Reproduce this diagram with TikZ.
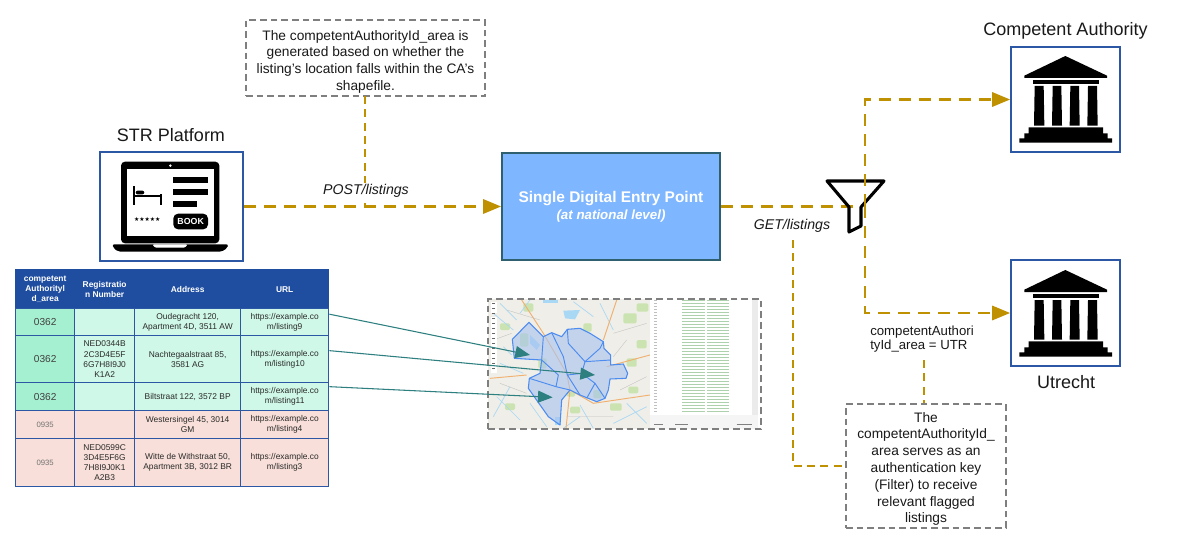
\documentclass[tikz,border=0pt]{standalone}
\usepackage{fontspec}
\setmainfont{Liberation Sans}
\newfontfamily\dejavu{DejaVu Sans}
\usetikzlibrary{arrows.meta}
\definecolor{gold}{HTML}{BF9000}
\definecolor{bluebd}{HTML}{2B57A5}
\definecolor{hdr}{HTML}{1F4EA1}
\definecolor{mintd}{HTML}{A6F0D2}
\definecolor{mintl}{HTML}{CFF8E8}
\definecolor{pinkc}{HTML}{F8DFD9}
\definecolor{tealc}{HTML}{2E7F80}
\definecolor{graybd}{HTML}{7F7F7F}
\definecolor{sdepfill}{HTML}{7EB6FF}
\definecolor{sdepbd}{HTML}{2F6070}
\definecolor{txtc}{HTML}{2A2A2A}
\definecolor{mapbg}{HTML}{EFEEE8}
\definecolor{mapgreen}{HTML}{CBE3B0}
\definecolor{mapwater}{HTML}{A9D8F5}
\definecolor{maproad}{HTML}{F0B070}
\definecolor{polyfill}{HTML}{A9C4F0}
\definecolor{polyline}{HTML}{4C8CF0}
\tikzset{
  golddash/.style={draw=gold,line width=2.2pt,dash pattern=on 9pt off 6pt},
  goldthin/.style={draw=gold,line width=1.25pt,dash pattern=on 6pt off 4pt},
  goldtip/.style={-{Triangle[length=13.5pt,width=10.5pt,color=gold]}},
  tealarrow/.style={draw=tealc,line width=0.8pt,-{Triangle[length=11pt,width=9pt,color=tealc]}},
  iconbox/.style={draw=bluebd,line width=1.4pt,fill=white,inner sep=0pt},
  callout/.style={draw=graybd,fill=white,line width=1.3pt,dash pattern=on 5pt off 3pt,align=center,inner sep=0pt,font=\fontsize{10.3pt}{12.6pt}\selectfont,text=black!90},
  title/.style={font=\fontsize{13.5pt}{16pt}\selectfont,text=black!90},
  lbl/.style={font=\fontsize{9.9pt}{10.6pt}\selectfont,text=black!90,align=left,inner sep=0pt},
  apilbl/.style={font=\fontsize{10.6pt}{11pt}\selectfont\itshape,text=black!90,fill=white,inner sep=1pt},
  cellb/.style={draw=bluebd,line width=1pt,inner sep=0pt,align=center,anchor=north west,font=\fontsize{6.3pt}{7.6pt}\selectfont,text=txtc},
  hcell/.style={cellb,fill=hdr,draw=hdr,text=white,font=\fontsize{6.3pt}{7.6pt}\selectfont\bfseries},
  mcell/.style={cellb,fill=mintl},
  dcell/.style={cellb,fill=mintd,font=\fontsize{7.6pt}{9pt}\selectfont,text=black!75},
  pcell/.style={cellb,fill=pinkc},
  gcell/.style={cellb,fill=pinkc,font=\fontsize{5.8pt}{7pt}\selectfont,text=black!55},
}
\newcommand{\tcell}[7]{%
  \pgfmathsetmacro{\cw}{(#4-#2)*0.75}\pgfmathsetmacro{\ch}{(#5-#3)*0.75}%
  \node[#6,minimum width=\cw pt,minimum height=\ch pt] (#1) at (#2,#3) {#7};}
\newcommand{\bldg}[2]{%
  \begin{scope}[shift={(#1,#2)},x=0.25pt,y=-0.25pt]
    \fill[black] (163,30)--(288,89)--(288,96)--(40,96)--(40,89)--cycle;
    \fill[black] (65,101) rectangle (263,115);
    \fill[black] (71,120)--(98,120)--(100,239)--(69,239)--cycle;
    \fill[black] (125,120)--(151,120)--(153,239)--(123,239)--cycle;
    \fill[black] (178,120)--(204,120)--(206,239)--(176,239)--cycle;
    \fill[black] (231,120)--(258,120)--(260,239)--(229,239)--cycle;
    \fill[black] (53,244)--(276,244)--(276,262)--(290,262)--(290,277)--(303,277)--(303,290)--(25,290)--(25,277)--(40,277)--(40,262)--(53,262)--cycle;
  \end{scope}}
\begin{document}
\begin{tikzpicture}[x=0.75pt,y=-0.75pt]
\useasboundingbox (0,0) rectangle (1188,552);
\fill[white] (0,0) rectangle (1188,552);

% boxes
\node[callout,minimum width=179.25pt,minimum height=57pt] (note1) at (365.5,58) {\rule{0pt}{13pt}The competentAuthorityId\_area is\\generated based on whether the\\listing's location falls within the CA's\\shapefile.};
\node[callout,minimum width=120pt,minimum height=93pt] (note2) at (926,466) {\rule{0pt}{12pt}The\\competentAuthorityId\_\\area serves as an\\authentication key\\(Filter) to receive\\relevant flagged\\listings};
\node[draw=sdepbd,line width=1.2pt,fill=sdepfill,minimum width=163.5pt,minimum height=80pt,inner sep=0pt,align=center,text=white] (sdep) at (611,206.5) {{\fontsize{11.6pt}{14pt}\selectfont\bfseries Single Digital Entry Point}\\[1pt]{\fontsize{10pt}{11pt}\selectfont\bfseries\itshape (at national level)}};
\node[iconbox,minimum width=107pt,minimum height=81.5pt] (plat) at (171.5,206.5) {};
\node[iconbox,minimum width=81.5pt,minimum height=79pt] (ca) at (1065.5,99.5) {};
\node[iconbox,minimum width=81.5pt,minimum height=79pt] (utr) at (1065.5,313) {};

\node[title] (tplat) at (171,135) {STR Platform};
\node[title] (tca) at (1065.5,31) {Competent Authority};
\node[title] (tutr) at (1066,382) {Utrecht};

% laptop icon
\begin{scope}[shift={(90,120)},x=0.25pt,y=-0.25pt]
  \fill[black,rounded corners=3pt] (93,125) rectangle (388,370);
  \fill[white] (110,147) rectangle (372,348);
  \fill[white] (241,137) circle (4);
  \fill[black,rounded corners=1.5pt] (67,373)--(415,373)--(412,384)--(395,395)--(85,395)--(70,384)--cycle;
  \fill[white,rounded corners=1pt] (187,373)--(293,373)--(285,383)--(195,383)--cycle;
  \fill[black] (128,197) rectangle (134,255);
  \fill[black] (128,226) rectangle (214,231);
  \fill[black] (211,222) rectangle (216,255);
  \fill[black,rounded corners=1.5pt] (137,212) rectangle (163,223);
  \fill[black] (250,172) rectangle (353,190);
  \fill[black] (250,207) rectangle (353,226);
  \fill[black] (250,243) rectangle (320,262);
  \node[fill=black,rounded corners=3.5pt,minimum width=26pt,minimum height=11.7pt,inner sep=0pt,text=white,font=\fontsize{6.6pt}{7pt}\selectfont\bfseries] (bookbtn) at (302,304.5) {BOOK};
  \node[inner sep=0pt,font=\dejavu\fontsize{4.4pt}{5pt}\selectfont] (stars) at (172,299) {★★★★★};
\end{scope}

\bldg{1011}{46}
\bldg{1011}{260}

% table
\tcell{h1}{15}{269}{74}{308}{hcell}{competent\\Authorityl\\d\_area}
\tcell{h2}{74}{269}{134}{308}{hcell}{Registratio\\n Number}
\tcell{h3}{134}{269}{240}{308}{hcell}{Address}
\tcell{h4}{240}{269}{328}{308}{hcell}{URL}
\tcell{a1}{15}{308}{74}{335}{dcell}{0362}
\tcell{a2}{74}{308}{134}{335}{mcell}{}
\tcell{a3}{134}{308}{240}{335}{mcell}{Oudegracht 120,\\Apartment 4D, 3511 AW}
\tcell{a4}{240}{308}{328}{335}{mcell}{https://example.co\\m/listing9}
\tcell{b1}{15}{335}{74}{382}{dcell}{0362}
\tcell{b2}{74}{335}{134}{382}{mcell}{NED0344B\\2C3D4E5F\\6G7H8I9J0\\K1A2}
\tcell{b3}{134}{335}{240}{382}{mcell}{Nachtegaalstraat 85,\\3581 AG}
\tcell{b4}{240}{335}{328}{382}{mcell}{https://example.co\\m/listing10}
\tcell{c1}{15}{382}{74}{410}{dcell}{0362}
\tcell{c2}{74}{382}{134}{410}{mcell}{}
\tcell{c3}{134}{382}{240}{410}{mcell}{Biltstraat 122, 3572 BP}
\tcell{c4}{240}{382}{328}{410}{mcell}{https://example.co\\m/listing11}
\tcell{d1}{15}{410}{74}{438}{gcell}{0935}
\tcell{d2}{74}{410}{134}{438}{pcell}{}
\tcell{d3}{134}{410}{240}{438}{pcell}{Westersingel 45, 3014\\GM}
\tcell{d4}{240}{410}{328}{438}{pcell}{https://example.co\\m/listing4}
\tcell{e1}{15}{438}{74}{485.5}{gcell}{0935}
\tcell{e2}{74}{438}{134}{485.5}{pcell}{NED0599C\\3D4E5F6G\\7H8I9J0K1\\A2B3}
\tcell{e3}{134}{438}{240}{485.5}{pcell}{Witte de Withstraat 50,\\Apartment 3B, 3012 BR}
\tcell{e4}{240}{438}{328}{485.5}{pcell}{https://example.co\\m/listing3}

% map
\begin{scope}[shift={(480,290)},x=0.25pt,y=-0.25pt]
  \fill[mapbg] (25,28) rectangle (510,418);
  % farmland and green areas
  \foreach \gx/\gy/\gw/\gh in {430/70/40/30, 470/40/35/25, 470/150/30/25, 440/205/30/25, 390/340/35/22, 310/100/25/25, 60/100/30/20, 75/340/30/20, 130/40/30/25, 445/290/30/20, 270/350/30/20, 120/130/25/40, 175/205/25/30, 340/300/25/25, 260/305/25/15}
    \fill[mapgreen,rounded corners=1pt] (\gx,\gy) rectangle ++(\gw,\gh);
  % water
  \fill[mapwater] (190,30) rectangle (235,40);
  \fill[mapwater] (250,62)--(300,60)--(285,88)--(255,85)--cycle;
  \fill[mapwater] (150,135)--(180,165)--(170,180)--(150,160)--cycle;
  \fill[mapwater] (225,380) rectangle (242,405);
  \draw[mapwater,line width=.5pt] (40,70)--(100,120) (50,320)--(120,390) (60,220)--(130,250) (300,345)--(340,415) (400,400)--(500,350) (60,40)--(110,90) (70,170)--(95,195) (150,30)--(120,70) (280,35)--(340,80) (440,340)--(500,400) (90,290)--(40,380) (150,340)--(200,410) (300,380)--(250,415) (360,40)--(400,120);
  % roads
  \draw[maproad,line width=.7pt] (125,30)--(190,130)--(260,250)--(270,300)--(340,340)--(510,315);
  \draw[maproad,line width=.7pt] (410,30)--(370,150) (30,265)--(140,255) (380,230)--(510,195) (270,300)--(258,415);
  \draw[black!25,line width=.25pt] (40,150)--(95,130) (400,130)--(500,100) (420,300)--(500,260) (60,280)--(140,310) (260,380)--(400,380) (440,150)--(400,200) (80,60)--(180,90);
  % right panel
  \fill[white] (510,28) rectangle (815,375);
  \fill[black!8!white] (815,28) rectangle (835,418);
  \fill[black!4!white] (510,375) rectangle (835,418);
  \fill[white] (32,35) rectangle (50,70);
  \fill[white] (32,80) rectangle (50,250);
  \foreach \yy in {32,41,...,372} {
    \draw[green!45!black,opacity=.32,line width=.45pt] (607,\yy)--(675,\yy) (682,\yy)--(748,\yy);
    \draw[black!25,line width=.4pt] (522,\yy)--(530,\yy);
  }
  \foreach \yy in {40,55,...,245} \draw[black!60,line width=.6pt] (36,\yy)--(46,\yy);
  \draw[black!50,line width=.6pt] (770,402)--(815,402) (522,402)--(550,402) (585,402)--(625,402);
  % shapefile
  \draw[draw=polyline,fill=polyfill,fill opacity=.62,line width=.8pt,line join=round]
    (147,97)--(190,140)--(215,128)--(245,140)--(262,118)--(300,115)--(330,130)--(370,155)--(372,175)--(392,195)--(392,225)--(430,222)--(443,250)--(438,265)--(390,267)--(385,300)--(375,325)--(350,335)--(300,315)--(270,300)--(245,330)--(240,405)--(205,380)--(145,295)--(148,265)--(180,250)--(185,210)--(103,205)--(97,148)--cycle;
  \draw[draw=polyline,line width=.7pt] (190,140)--(185,210)--(235,255)--(228,290)--(270,300) (215,128)--(250,200)--(262,255)--(300,315)
    (262,118)--(265,160)--(315,215)--(360,175)--(370,155) (315,215)--(305,250)--(262,255) (305,250)--(345,280)--(375,325) (315,215)--(392,210) (345,280)--(320,325) (148,265)--(228,290);
  \coordinate (t1) at (150,195);
  \coordinate (t2) at (345,255);
  \coordinate (t3) at (218,322);
\end{scope}
\node[draw=graybd,line width=1.3pt,dash pattern=on 5pt off 3pt,minimum width=204.75pt,minimum height=97.5pt,inner sep=0pt] (map) at (624.5,364) {};

% connectors
\coordinate (s1) at ([yshift=6pt]a4.east);
\coordinate (s2) at ([yshift=6.4pt]b4.east);
\coordinate (s3) at ([yshift=7.5pt]c4.east);
\draw[tealarrow] (s1) -- (t1);
\draw[tealarrow] (s2) -- (t2);
\draw[tealarrow] (s3) -- (t3);

\coordinate (noteend) at (note1.south |- sdep.west);
\coordinate (funnelin) at (853,206.5);
\coordinate (vtop) at (865,99.5);
\coordinate (vbot) at (865,313);
\coordinate (getstart) at (793,240);
\coordinate (getcorner) at (793,466);
\coordinate (utrtag) at (924,360);
\coordinate (noteline) at (365,96);
\coordinate (noteline2) at (365,206);

\draw[goldthin] (noteline) -- (noteline2);
\draw[golddash,goldtip] (plat.east) -- (sdep.west);
\draw[golddash] (sdep.east) -- (funnelin);
\draw[goldthin] (getstart) -- (getcorner) -- (note2.west);
\draw[goldthin] (utrtag) -- (note2.north -| utrtag);

% funnel
\node[inner sep=0pt,minimum size=0pt] (funnel) at (865,206) {};
\draw[black,line width=2.3pt,line join=round] (827,181)--(884,181)--(861,207)--(861,226)--(849,232)--(849,207)--cycle;
\draw[golddash,goldtip] (funnel) -- (vtop) -- (ca.west);
\draw[golddash,goldtip] (funnel) -- (vbot) -- (utr.west);

% labels
\node[apilbl] (post) at (366,191) {POST/listings};
\node[apilbl,fill=none] (get) at (792,226) {GET/listings};
\node[lbl,anchor=north west] (filt) at (870,326) {competentAuthori\\tyId\_area = UTR};
\end{tikzpicture}
\end{document}
